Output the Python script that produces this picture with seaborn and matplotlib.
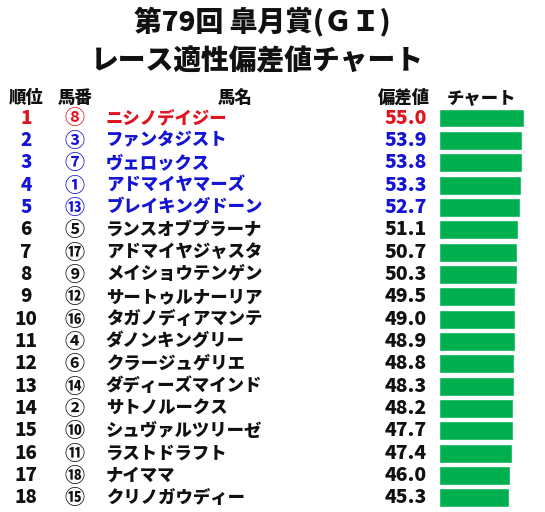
import numpy as np
import pandas as pd
import seaborn as sns
import matplotlib
matplotlib.use('Agg')
import matplotlib.pyplot as plt
from matplotlib.transforms import blended_transform_factory

# データ
ranks = list(range(1, 19))
umaban = ['⑧', '③', '⑦', '①', '⑬', '⑤', '⑰', '⑨', '⑫', '⑯', '④', '⑥', '⑭', '②', '⑩', '⑪', '⑱', '⑮']
names = ['ニシノデイジー', 'ファンタジスト', 'ヴェロックス', 'アドマイヤマーズ', 'ブレイキングドーン',
         'ランスオブプラーナ', 'アドマイヤジャスタ', 'メイショウテンゲン', 'サートゥルナーリア',
         'タガノディアマンテ', 'ダノンキングリー', 'クラージュゲリエ', 'ダディーズマインド',
         'サトノルークス', 'シュヴァルツリーゼ', 'ラストドラフト', 'ナイママ', 'クリノガウディー']
scores = [55.0, 53.9, 53.8, 53.3, 52.7, 51.1, 50.7, 50.3, 49.5, 49.0,
          48.9, 48.8, 48.3, 48.2, 47.7, 47.4, 46.0, 45.3]

RED = '#e0141e'
BLUE = '#1414d4'
BLACK = '#111111'
GREEN = '#00b050'

sns.set_style('white')
plt.rcParams['font.family'] = ['Noto Sans CJK JP', 'DejaVu Sans']

W, H = 545, 512
fig = plt.figure(figsize=(W / 100, H / 100), dpi=100)

# 棒グラフ用の軸 (x: 1単位 = 1.545px)
px_per_unit = 1.545
row0, step = 118.0, 22.35
top = row0 - step / 2
bottom = row0 + step * 17 + step / 2
x0 = 439
ax = fig.add_axes([x0 / W, 1 - bottom / H, (W - x0) / W, (bottom - top) / H])

df = pd.DataFrame({'rank': [str(r) for r in ranks], 'score': scores})
sns.barplot(data=df, x='score', y='rank', orient='h', color=GREEN,
            saturation=1, width=0.85, ax=ax)
ax.set_xlim(0, (W - x0) / px_per_unit)
ax.set_ylim(17.5, -0.5)
ax.axis('off')

tr = blended_transform_factory(fig.transFigure, ax.transData)

def fx(px):
    return px / W

for i in range(18):
    if i == 0:
        c = RED
    elif i < 5:
        c = BLUE
    else:
        c = BLACK
    ax.text(fx(26), i, str(ranks[i]), transform=tr, ha='center', va='center',
            fontsize=13.5, fontweight='black', color=c, clip_on=False)
    ax.text(fx(75), i, umaban[i], transform=tr, ha='center', va='center',
            fontsize=14.5, fontweight='bold', color=c, clip_on=False)
    ax.text(fx(106), i, names[i], transform=tr, ha='left', va='center',
            fontsize=12.5, fontweight='black', color=c, clip_on=False)
    ax.text(fx(427), i, f'{scores[i]:.1f}', transform=tr, ha='right', va='center',
            fontsize=14, fontweight='black', color=c, clip_on=False)

# ヘッダー
hy = 1 - 98 / H
for x, t in [(26, '順位'), (75, '馬番'), (235, '馬名'), (404, '偏差値'), (481, 'チャート')]:
    fig.text(fx(x), hy, t, ha='center', va='center', fontsize=12.5,
             fontweight='black', color=BLACK)

# タイトル
fig.text(fx(262), 1 - 21 / H, '第79回 皐月賞(ＧＩ)', ha='center', va='center',
         fontsize=20, fontweight='black', color=BLACK)
fig.text(fx(257), 1 - 61 / H, 'レース適性偏差値チャート', ha='center', va='center',
         fontsize=20, fontweight='black', color=BLACK)

fig.savefig('out.png', dpi=100, facecolor='white')
